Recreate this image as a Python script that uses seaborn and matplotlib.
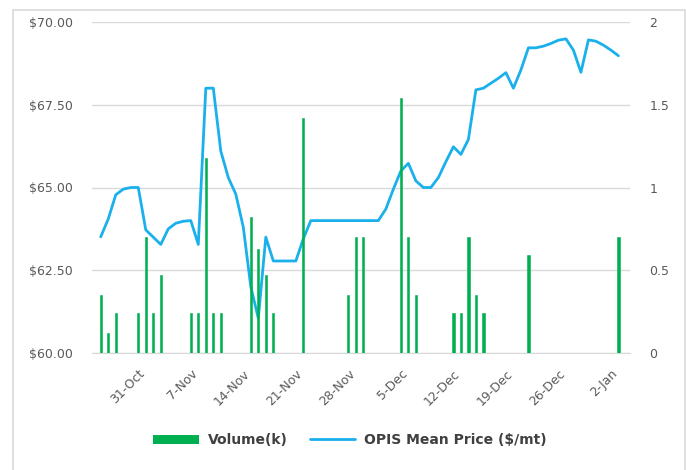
import matplotlib
matplotlib.use("Agg")
import matplotlib.pyplot as plt
import matplotlib.dates as mdates
from matplotlib.patches import Patch, Rectangle
from matplotlib.lines import Line2D
import numpy as np
import pandas as pd
import seaborn as sns

# ----------------------------
#  Data
# ----------------------------
# OPIS mean price, one value per calendar day, 26-Oct-2016 .. 3-Jan-2017
price_start = "2016-10-26"
price_values = [
    63.51, 64.05, 64.78, 64.95, 65.00, 65.00,              # Oct 26-31
    63.72, 63.50, 63.28, 63.75, 63.92, 63.98,              # Nov 1-6
    64.00, 63.28, 68.00, 68.00, 66.10, 65.30, 64.80,       # Nov 7-13
    63.80, 62.00, 61.05, 63.50, 62.78, 62.78, 62.78,       # Nov 14-20
    62.78, 63.45, 64.00, 64.00, 64.00, 64.00, 64.00,       # Nov 21-27
    64.00, 64.00, 64.00, 64.00, 64.00, 64.35, 64.95,       # Nov 28-Dec 4
    65.50, 65.73, 65.20, 65.00, 65.00, 65.30, 65.78,       # Dec 5-11
    66.23, 66.00, 66.45, 67.95, 68.00, 68.15, 68.30,       # Dec 12-18
    68.47, 68.00, 68.55, 69.22, 69.22, 69.27, 69.35,       # Dec 19-25
    69.45, 69.49, 69.15, 68.48, 69.46, 69.42, 69.30,       # Dec 26-Jan 1
    69.15, 68.98,                                          # Jan 2-3
]

# traded volume (k) by trade date
volume_dates = [
    "2016-10-26", "2016-10-27", "2016-10-28", "2016-10-31", "2016-11-01",
    "2016-11-02", "2016-11-03", "2016-11-07", "2016-11-08", "2016-11-09",
    "2016-11-10", "2016-11-11", "2016-11-15", "2016-11-16", "2016-11-17",
    "2016-11-18", "2016-11-22", "2016-11-28", "2016-11-29", "2016-11-30",
    "2016-12-05", "2016-12-06", "2016-12-07", "2016-12-12", "2016-12-13",
    "2016-12-14", "2016-12-15", "2016-12-16", "2016-12-22", "2017-01-03",
]
volume_values = [
    0.35, 0.12, 0.24, 0.24, 0.70,
    0.24, 0.47, 0.24, 0.24, 1.18,
    0.24, 0.24, 0.82, 0.63, 0.47,
    0.24, 1.42, 0.35, 0.70, 0.70,
    1.54, 0.70, 0.35, 0.24, 0.24,
    0.70, 0.35, 0.24, 0.59, 0.70,
]

tick_dates = pd.date_range("2016-10-31", "2017-01-02", freq="7D")

price_dates = pd.date_range(price_start, periods=len(price_values), freq="D")
vol_dates = pd.to_datetime(volume_dates)

price_df = pd.DataFrame({"date": price_dates, "price": price_values})

LINE_C = "#1AB0EC"
BAR_C = "#00B050"
GRID_C = "#D9D9D9"
TEXT_C = "#595959"

sns.set_style("white")
plt.rcParams["font.family"] = ["DejaVu Sans"]

fig = plt.figure(figsize=(6.86, 4.70), dpi=100)
W, H = 686, 470
ax = fig.add_axes([92 / W, 1 - 353 / H, (630 - 92) / W, (353 - 22) / H])

sns.lineplot(data=price_df, x="date", y="price", ax=ax, color=LINE_C,
             linewidth=2.0, zorder=3)

ax2 = ax.twinx()
ax2.bar(vol_dates, volume_values, width=0.3, color=BAR_C,
        edgecolor=BAR_C, linewidth=0.4, zorder=4)

# x axis
ax.set_xlim(pd.Timestamp("2016-10-24 20:00"), pd.Timestamp("2017-01-04 13:00"))
ax.set_xticks(tick_dates)
ax.xaxis.set_major_formatter(mdates.DateFormatter("%-d-%b"))
for lab in ax.get_xticklabels():
    lab.set_rotation(45)
    lab.set_ha("right")
    lab.set_rotation_mode("anchor")
ax.tick_params(axis="x", length=7, width=1, color="#C8D4E3", labelsize=9,
               labelcolor=TEXT_C, pad=3)
ax.set_xlabel("")
ax.set_ylabel("")

# left axis
ax.set_ylim(60, 70)
ax.set_yticks(np.arange(60, 70.01, 2.5))
ax.set_yticklabels([f"${v:.2f}" for v in np.arange(60, 70.01, 2.5)])
ax.tick_params(axis="y", length=0, labelsize=9, labelcolor=TEXT_C, pad=14)
ax.yaxis.grid(True, color=GRID_C, linewidth=1)
ax.set_axisbelow(True)

# right axis
ax2.set_ylim(0, 2)
ax2.set_yticks([0, 0.5, 1, 1.5, 2])
ax2.set_yticklabels(["0", "0.5", "1", "1.5", "2"])
ax2.tick_params(axis="y", length=0, labelsize=9, labelcolor=TEXT_C, pad=14)

for a in (ax, ax2):
    for s in a.spines.values():
        s.set_visible(False)
ax.spines["bottom"].set_visible(True)
ax.spines["bottom"].set_color(GRID_C)

# legend
handles = [Patch(facecolor=BAR_C, edgecolor="none"),
           Line2D([0], [0], color=LINE_C, linewidth=2.0)]
fig.legend(handles, ["Volume(k)", "OPIS Mean Price ($/mt)"], loc="center",
           bbox_to_anchor=(0.51, 1 - 440 / H), ncol=2, frameon=False,
           prop={"weight": "bold", "size": 10}, labelcolor="#404040",
           handlelength=3.3, handleheight=0.6, columnspacing=1.6,
           handletextpad=0.6)

# outer chart frame
fig.patches.append(Rectangle((13 / W, -0.05), (685 - 13) / W, 1.05 - 10 / H,
                             transform=fig.transFigure, fill=False,
                             edgecolor=GRID_C, linewidth=1.2))

fig.savefig("out.png", dpi=100)
